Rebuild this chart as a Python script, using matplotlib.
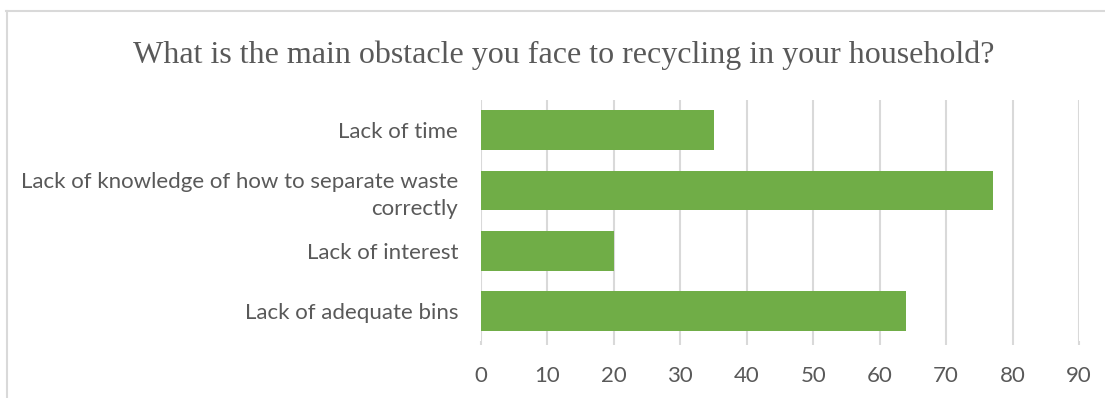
import matplotlib.pyplot as plt
from matplotlib.lines import Line2D

# Survey answers (bottom to top as drawn)
categories = ['Lack of adequate bins', 'Lack of interest',
              'Lack of knowledge of how to separate waste\ncorrectly', 'Lack of time']
values = [64, 20, 77, 35]
ticks = [0, 10, 20, 30, 40, 50, 60, 70, 80, 90]

title = 'What is the main obstacle you face to recycling in your household?'
bar_color = '#70AD47'
grid_color = '#D9D9D9'
text_color = '#595959'

plt.rcParams['font.family'] = ['Lato', 'DejaVu Sans']

fig = plt.figure(figsize=(11.05, 3.98), dpi=100)
ax = fig.add_axes([0.4353, 0.1432, 0.5412, 0.6055])

ax.barh(range(len(categories)), values, height=0.66, color=bar_color, zorder=3)

ax.set_xlim(0, 90)
ax.set_ylim(-0.5, len(categories) - 0.5)
ax.set_xticks(ticks)
ax.set_yticks(range(len(categories)))
ax.set_yticklabels(categories, ha='right', multialignment='right',
                   linespacing=1.4)

ax.xaxis.grid(True, color=grid_color, linewidth=1.5, zorder=0)
for s in ax.spines.values():
    s.set_visible(False)

ax.tick_params(axis='x', length=3, width=1.5, color=grid_color, pad=15,
               labelsize=16, labelcolor=text_color)
ax.tick_params(axis='y', length=0, pad=16.5, labelsize=16, labelcolor=text_color)

# chart title in a serif face
fig.text(0.51, 0.862, title, ha='center', va='center', fontsize=23,
         family=['Liberation Serif', 'DejaVu Serif'], color=text_color)

# chart area border (top and left visible)
fig.add_artist(Line2D([6 / 1105, 1.0], [1 - 11 / 398] * 2,
                      transform=fig.transFigure, color=grid_color, linewidth=1.5))
fig.add_artist(Line2D([7 / 1105] * 2, [0, 1 - 11 / 398],
                      transform=fig.transFigure, color=grid_color, linewidth=1.5))

fig.savefig('out.png', dpi=100)
